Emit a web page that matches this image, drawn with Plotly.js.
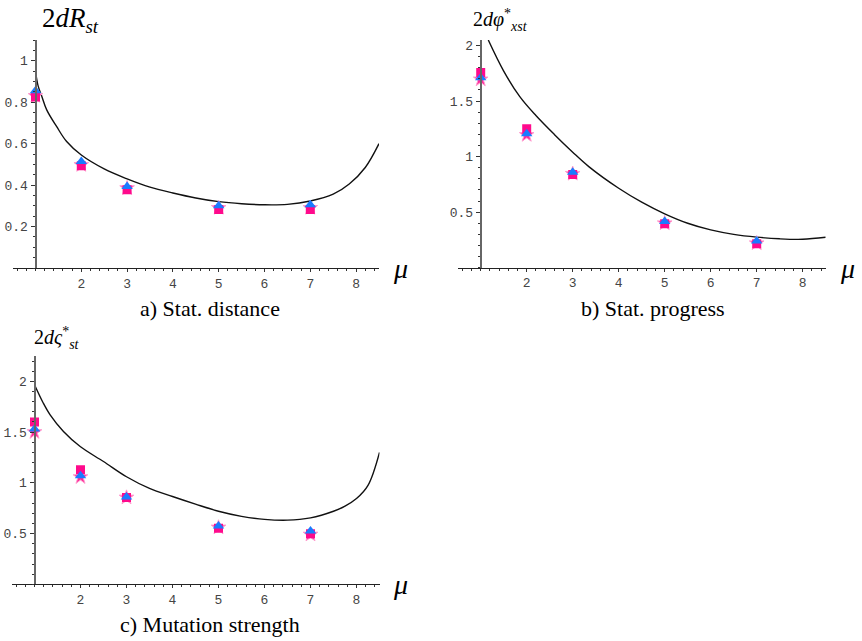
<!DOCTYPE html>
<html>
<head>
<meta charset="utf-8">
<script src="https://cdn.plot.ly/plotly-3.0.1.min.js"></script>
<style>html,body{margin:0;padding:0;background:#fff;}#chart{width:862px;height:641px;}</style>
</head>
<body>
<div id="chart"></div>
<script>
// ---- Data ----
const muPoints = [1, 2, 3, 5, 7];

// Panel a) Stat. distance
const aStar = [0.83, 0.497, 0.385, 0.29, 0.29];
const aTri  = [0.855, 0.514, 0.393, 0.30, 0.305];
const aSq   = [0.825, 0.493, 0.378, 0.282, 0.282];
const aCurveX = [1, 1.06, 1.135, 1.245, 1.46, 1.68, 2, 2.5, 3, 3.5, 4, 4.5, 5, 5.5, 6, 6.5, 7, 7.5, 7.85, 8.2, 8.5];
const aCurveY = [0.948, 0.876, 0.83, 0.763, 0.683, 0.61, 0.545, 0.478, 0.43, 0.39, 0.362, 0.338, 0.32, 0.31, 0.305, 0.307, 0.323, 0.356, 0.405, 0.485, 0.6];

// Panel b) Stat. progress
const bStar = [1.695, 1.195, 0.845, 0.40, 0.22];
const bTri  = [1.71, 1.205, 0.86, 0.415, 0.24];
const bSq   = [1.757, 1.25, 0.84, 0.395, 0.215];
const bCurveX = [1.165, 1.5, 1.85, 2.2, 2.6, 3, 3.35, 4, 4.5, 5, 5.5, 6, 6.5, 7, 7.5, 8, 8.5];
const bCurveY = [2.05, 1.77, 1.54, 1.37, 1.2, 1.04, 0.91, 0.715, 0.59, 0.485, 0.4, 0.34, 0.3, 0.275, 0.26, 0.256, 0.274];

// Panel c) Mutation strength
const cStar = [1.50, 1.056, 0.855, 0.56, 0.49];
const cTri  = [1.53, 1.07, 0.86, 0.575, 0.526];
const cSq   = [1.60, 1.128, 0.855, 0.553, 0.497];
const cCurveX = [1, 1.19, 1.34, 1.63, 2, 2.5, 3, 3.5, 4, 4.5, 5, 5.5, 6, 6.5, 7, 7.5, 7.75, 8, 8.25, 8.5];
const cCurveY = [1.967, 1.787, 1.67, 1.506, 1.355, 1.21, 1.06, 0.945, 0.865, 0.79, 0.72, 0.67, 0.64, 0.632, 0.655, 0.72, 0.77, 0.845, 0.975, 1.3];

const xTickVals = [2, 3, 4, 5, 6, 7, 8];
const aYTicks = [0.2, 0.4, 0.6, 0.8, 1];
const aYLabels = ['0.2', '0.4', '0.6', '0.8', '1'];
const bYTicks = [0.5, 1, 1.5, 2];
const bYLabels = ['0.5', '1', '1.5', '2'];
const cYTicks = [0.5, 1, 1.5, 2];
const cYLabels = ['0.5', '1', '1.5', '2'];

const panelTitles = ['2<i>dR</i><sub><i>st</i></sub>', '2<i>dφ</i><sup>*</sup><sub><i>xst</i></sub>', '2<i>dς</i><sup>*</sup><sub><i>st</i></sub>'];
const captions = ['a) Stat. distance', 'b) Stat. progress', 'c) Mutation strength'];

// ---- Styles ----
const pinkStar = '#ff2a9a';
const blueTri = '#1a7bff';
const pinkSq = '#ff0a8c';

function seriesFor(xa, ya, star, tri, sq, cx, cy) {
  return [
    {x: cx, y: cy, xaxis: xa, yaxis: ya, mode: 'lines', line: {color: '#111', width: 1.4, shape: 'spline', smoothing: 1}, hoverinfo: 'skip'},
    {x: muPoints, y: star, xaxis: xa, yaxis: ya, mode: 'markers', marker: {symbol: 'star', size: 11, color: pinkStar, line: {color: '#ff9ccf', width: 1}}},
    {x: muPoints, y: sq, xaxis: xa, yaxis: ya, mode: 'markers', marker: {symbol: 'square', size: 9, color: pinkSq, line: {width: 0}}},
    {x: muPoints, y: tri, xaxis: xa, yaxis: ya, mode: 'markers', marker: {symbol: 'triangle-up', size: 10, color: blueTri, line: {width: 0}}}
  ];
}

const data = [].concat(
  seriesFor('x', 'y', aStar, aTri, aSq, aCurveX, aCurveY),
  seriesFor('x2', 'y2', bStar, bTri, bSq, bCurveX, bCurveY),
  seriesFor('x3', 'y3', cStar, cTri, cSq, cCurveX, cCurveY)
);

const W = 862, H = 641;
const tickFont = {family: 'Liberation Mono, Courier New, monospace', size: 13, color: '#444'};

function xAxis(domPx, yName) {
  return {
    domain: [domPx[0] / W, domPx[1] / W], anchor: yName, range: [0.5, 8.5],
    showgrid: false, zeroline: false, showline: true, linecolor: '#222', linewidth: 1,
    tickmode: 'array', tickvals: xTickVals, ticks: 'outside', ticklen: 3, tickcolor: '#333',
    tickfont: tickFont,
    minor: {tickmode: 'linear', tick0: 0, dtick: 0.2, ticks: 'outside', ticklen: 2, tickcolor: '#333', showgrid: false}
  };
}
function yAxis(domPx, range, posPx, tv, tt, minorD) {
  return {
    domain: [1 - domPx[1] / H, 1 - domPx[0] / H], anchor: 'free', position: posPx / W, range: range,
    showgrid: false, zeroline: false, showline: true, linecolor: '#666', linewidth: 2,
    tickmode: 'array', tickvals: tv, ticktext: tt, ticks: 'outside', ticklen: 4, tickcolor: '#333',
    tickfont: tickFont,
    minor: {tickmode: 'linear', tick0: 0, dtick: minorD, ticks: 'outside', ticklen: 2, tickcolor: '#333', showgrid: false}
  };
}

const serif = 'Liberation Serif, Times New Roman, serif';
function ann(text, xpx, ypx, size) {
  return {text: text, x: xpx / W, y: 1 - ypx / H, xref: 'paper', yref: 'paper', xanchor: 'center', yanchor: 'middle',
          showarrow: false, font: {family: serif, size: size, color: '#000'}};
}
const annotations = [
  ann(panelTitles[0], 70, 20, 27),
  ann(panelTitles[1], 500, 20, 20),
  ann(panelTitles[2], 57, 338, 20),
  ann('<i>μ</i>', 400, 268, 28),
  ann('<i>μ</i>', 847, 268, 28),
  ann('<i>μ</i>', 400, 584, 28),
  ann(captions[0], 210, 309, 22),
  ann(captions[1], 653, 308, 22),
  ann(captions[2], 210, 624, 22)
];

const layout = {
  width: W, height: H, margin: {l: 0, r: 0, t: 0, b: 0},
  paper_bgcolor: '#fff', plot_bgcolor: 'rgba(0,0,0,0)', showlegend: false,
  xaxis: xAxis([12.6, 379], 'y'),
  yaxis: yAxis([40, 268], [0, 1.1], 35.5, aYTicks, aYLabels, 0.05),
  xaxis2: xAxis([457.7, 825.7], 'y2'),
  yaxis2: yAxis([40, 267.7], [0, 2.05], 480.7, bYTicks, bYLabels, 0.1),
  xaxis3: xAxis([11.5, 379.5], 'y3'),
  yaxis3: yAxis([356, 584.3], [0, 2.25], 34.5, cYTicks, cYLabels, 0.1),
  annotations: annotations
};

Plotly.newPlot('chart', data, layout, {staticPlot: true, displayModeBar: false});
</script>
</body>
</html>
